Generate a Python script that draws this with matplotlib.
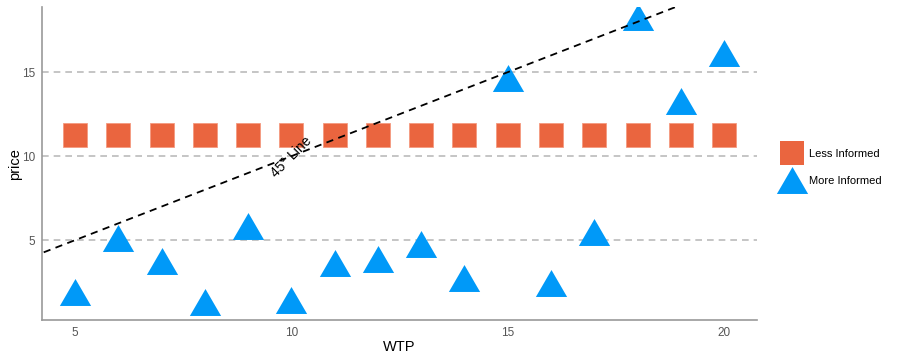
import numpy as np
import matplotlib
matplotlib.use("Agg")
import matplotlib.pyplot as plt
from matplotlib.lines import Line2D

plt.rcParams['font.family'] = ['Liberation Sans', 'DejaVu Sans']

# data
wtp = [5, 6, 7, 8, 9, 10, 11, 12, 13, 14, 15, 16, 17, 18, 19, 20]
price_less = [11.28] * 16
price_more = [1.92, 5.12, 3.76, 1.33, 5.83, 1.44, 3.66, 3.86, 4.75,
              2.77, 14.67, 2.42, 5.48, 18.3, 13.27, 16.15]
yticks = [5, 10, 15]
xticks = [5, 10, 15, 20]

orange = '#EA653F'
blue = '#0099F8'
tri = [(0, 1), (-1.16, -1), (1.16, -1)]

fig = plt.figure(figsize=(9, 3.6), dpi=100)
ax = fig.add_axes([0.047, 0.111, 0.794, 0.869])

for y in yticks:
    ax.axhline(y, color='#bbbbbb', lw=1.2, ls=(0, (4, 3)), zorder=0)

ax.plot(wtp, price_less, ls='none', marker='s', ms=17, color=orange,
        markeredgecolor='#f59a80', markeredgewidth=0.6, zorder=2)
ax.plot(wtp, price_more, ls='none', marker=tri, ms=22.5, color=blue,
        markeredgewidth=0, zorder=3)

xs = np.array([4.0, 19.6])
ax.plot(xs, xs, color='black', ls=(0, (4, 3)), lw=1.3, zorder=4)
ax.text(10, 9.95, '45° Line', rotation=45, ha='center', va='center',
        fontsize=10, zorder=5)

ax.set_xlim(4.24, 20.76)
ax.set_ylim(0.24, 18.87)
ax.set_xticks(xticks)
ax.set_yticks(yticks)
ax.tick_params(length=0, labelsize=8.5, labelcolor='#555555', pad=5)
for s in ['top', 'right']:
    ax.spines[s].set_visible(False)
for s in ['left', 'bottom']:
    ax.spines[s].set_color('#999999')
    ax.spines[s].set_linewidth(1.2)

ax.set_xlabel('WTP', fontsize=10.5, labelpad=1)
ax.set_ylabel('price', fontsize=10.5, labelpad=0)

handles = [
    Line2D([], [], ls='none', marker='s', ms=17, color=orange, markeredgewidth=0),
    Line2D([], [], ls='none', marker=tri, ms=22.5, color=blue, markeredgewidth=0),
]
fig.legend(handles, ['Less Informed', 'More Informed'], loc='center left',
           bbox_to_anchor=(0.862, 0.535), frameon=False, fontsize=8,
           handletextpad=0.5, labelspacing=1.6, borderpad=0)

fig.savefig('out.png', dpi=100)
